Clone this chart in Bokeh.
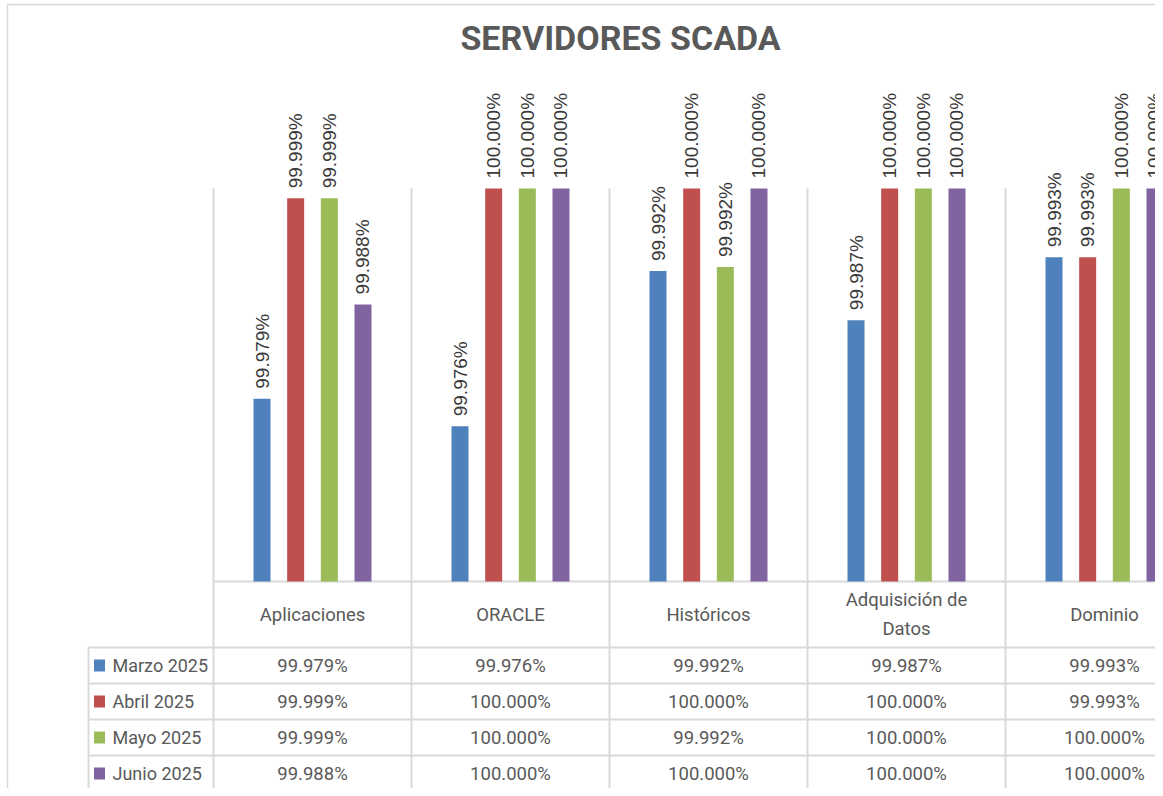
from math import pi
from bokeh.plotting import figure
from bokeh.models import Range1d
from bokeh.core.properties import value
from bokeh.embed import file_html
from bokeh.resources import INLINE

# ---------------- data ----------------
titulo = "SERVIDORES SCADA"
categorias = ["Aplicaciones", "ORACLE", "Históricos", "Adquisición de\nDatos", "Dominio"]
series = ["Marzo 2025", "Abril 2025", "Mayo 2025", "Junio 2025"]
marzo = [99.9786, 99.9758, 99.9916, 99.9866, 99.9930]
abril = [99.9990, 100.0, 100.0, 100.0, 99.9930]
mayo = [99.9990, 100.0, 99.9920, 100.0, 100.0]
junio = [99.9882, 100.0, 100.0, 100.0, 100.0]
valores = [marzo, abril, mayo, junio]
colores = ["#4F81BD", "#C0504D", "#9BBB59", "#8064A2"]
y_min, y_max = 99.96, 100.0

# ---------------- layout (picture pixels) ----------------
W, H = 1155, 788
PLOT_L, CAT_W = 213, 198
PLOT_TOP, BASE = 188, 581
TABLE_L = 88
ROW_TOP = 647
ROW_H = 36
ROW_LINES = [ROW_TOP + ROW_H * k for k in range(4)]
px_per = (BASE - PLOT_TOP) / (y_max - y_min)

GRID = "#D9D9D9"
TXT = "#595959"
TFONT = value("Roboto")

p = figure(width=W, height=H,
           x_range=Range1d(0, W), y_range=Range1d(H, 0),
           output_backend="svg", toolbar_location=None, min_border=0,
           x_axis_location=None, y_axis_location=None)
p.grid.visible = False
p.outline_line_color = None
p.background_fill_color = "white"
p.border_fill_color = "white"
p.extra_x_ranges = {"cat": Range1d(-PLOT_L / CAT_W, (W - PLOT_L) / CAT_W)}
p.extra_y_ranges = {"pct": Range1d(y_min - (H - BASE) / px_per,
                                   y_max + PLOT_TOP / px_per)}

n = len(categorias)

# outer chart border (left & top)
p.segment(x0=[7, 7], y0=[4, 4], x1=[7, W], y1=[H, 4], line_color=GRID, line_width=1.5)

# category separators (plot + table)
p.segment(x0=list(range(n + 1)), y0=[PLOT_TOP] * (n + 1), x1=list(range(n + 1)),
          y1=[H] * (n + 1), x_range_name="cat", line_color=GRID, line_width=2)
# baseline
p.segment(x0=[PLOT_L], y0=[BASE], x1=[W], y1=[BASE], line_color=GRID, line_width=2)
# table rows
p.segment(x0=[TABLE_L] * len(ROW_LINES), y0=ROW_LINES, x1=[W] * len(ROW_LINES),
          y1=ROW_LINES, line_color=GRID, line_width=2)
p.segment(x0=[TABLE_L], y0=[ROW_TOP], x1=[TABLE_L], y1=[H], line_color=GRID, line_width=2)

# bars + labels
step = 0.17
bar_w = 17 / CAT_W
for j, (nombre, vals, col) in enumerate(zip(series, valores, colores)):
    off = (j - (len(series) - 1) / 2) * step
    xs = [i + 0.5 + off for i in range(n)]
    p.vbar(x=xs, top=vals, bottom=y_min, width=bar_w, x_range_name="cat", y_range_name="pct",
           fill_color=col, line_color=None)
    p.text(x=xs, y=vals, text=["%.3f%%" % v for v in vals], angle=pi / 2,
           x_range_name="cat", y_range_name="pct", text_align="left", text_baseline="middle",
           y_offset=-10, text_font=value("Liberation Sans"), text_font_size="19px",
           text_color="#3A3A3A")

# table: category header
cat_y = (BASE + ROW_TOP) / 2
p.text(x=[i + 0.5 for i in range(n)], y=[cat_y] * n, text=categorias, x_range_name="cat",
       text_align="center", text_baseline="middle", text_font=TFONT, text_font_size="18.5px",
       text_color=TXT, text_line_height=1.3)

# table: series rows
for j, (nombre, vals, col) in enumerate(zip(series, valores, colores)):
    yc = ROW_TOP + ROW_H * (j + 0.5)
    p.rect(x=[99], y=[yc], width=11, height=12, width_units="screen", height_units="screen",
           fill_color=col, line_color=None)
    p.text(x=[112], y=[yc], text=[nombre], text_align="left", text_baseline="middle",
           text_font=TFONT, text_font_size="18px", text_color=TXT)
    p.text(x=[i + 0.5 for i in range(n)], y=[yc] * n, text=["%.3f%%" % v for v in vals],
           x_range_name="cat", text_align="center", text_baseline="middle",
           text_font=TFONT, text_font_size="18.5px", text_color=TXT)

# title
p.text(x=[620], y=[37], text=[titulo], text_align="center",
       text_baseline="middle", text_font=TFONT, text_font_style="bold",
       text_font_size="34px", text_color=TXT)

open("out.html", "w").write(file_html(p, INLINE))
